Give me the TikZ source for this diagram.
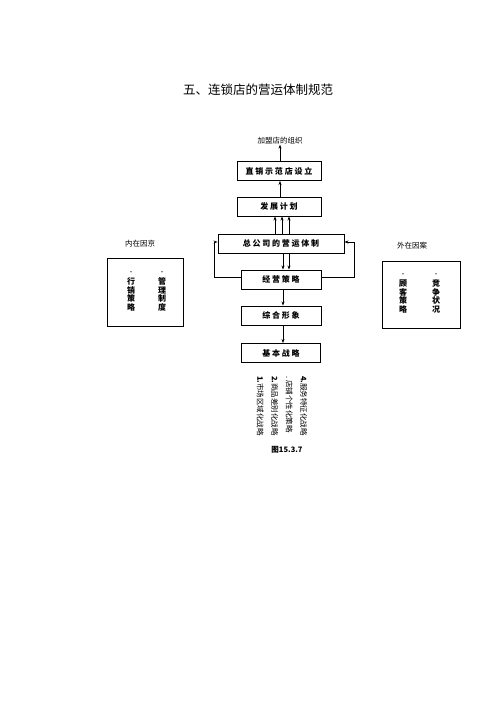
\documentclass[tikz,border=0pt]{standalone}
\usepackage{fontspec}
\setmainfont{Noto Sans CJK SC}
\newfontfamily\spaced[LetterSpace=22]{Noto Sans CJK SC}
\usetikzlibrary{arrows.meta}
\newcommand{\sdot}{{\mdseries\fontsize{6}{6}\selectfont ·}}
\begin{document}
\begin{tikzpicture}[x=1pt,y=-1pt,
  bx/.style={draw,line width=0.9pt,minimum height=19pt,inner sep=0pt,font=\spaced\bfseries\fontsize{8}{9}\selectfont},
  arr/.style={-{Stealth[length=4pt,width=3pt]},line width=0.6pt},
  lab/.style={font=\fontsize{7.5}{9}\selectfont,inner sep=0pt},
  side/.style={draw,line width=0.8pt},
  col/.style={align=center,inner sep=0pt,font=\bfseries\fontsize{8}{8.5}\selectfont}]
\useasboundingbox (0,0) rectangle (500,707);
\fill[white] (0,0) rectangle (500,707);
% title
\node[font=\fontsize{12.5}{14}\selectfont] (title) at (258,90) {五、连锁店的营运体制规范};
% main column
\node[lab] (jm) at (280,141) {加盟店的组织};
\node[bx,minimum width=84pt] (zx) at (279,171) {直销示范店设立};
\node[bx,minimum width=84pt] (fz) at (279,206.5) {发展计划};
\node[bx,minimum width=126pt] (zg) at (281,244) {总公司的营运体制};
\node[bx,minimum width=80pt] (jy) at (281,279.5) {经营策略};
\node[bx,minimum width=80pt] (zh) at (281,315.5) {综合形象};
\node[bx,minimum width=79pt] (jb) at (281,353) {基本战略};
% x positions
\coordinate (x214) at (214,0);
\coordinate (x275) at (275,0);
\coordinate (x280) at (280,0);
\coordinate (x282) at (282,0);
\coordinate (x283) at (283,0);
\coordinate (x289) at (289,0);
\coordinate (x354) at (354,0);
% arrows
\draw[arr] (zx.north -| x280) -- (jm.south -| x280);
\draw[arr] (fz.north -| x280) -- (zx.south -| x280);
\draw[arr] (zg.north -| x275) -- (fz.south -| x275);
\draw[arr] (zg.north -| x282) -- (fz.south -| x282);
\draw[arr] (zg.north -| x289) -- (fz.south -| x289);
\draw[arr] (zg.south -| x283) -- (jy.north -| x283);
\draw[arr] (zg.south -| x289) -- (jy.north -| x289);
\draw[arr] (jy.south -| x283) -- (zh.north -| x283);
\draw[arr] (zh.south -| x283) -- (jb.north -| x283);
\draw[arr] ([yshift=2pt]jy.west) -- ([yshift=2pt]jy.west -| x214) |- ([yshift=2pt]zg.west);
\draw[arr] ([yshift=2pt]jy.east) -- ([yshift=2pt]jy.east -| x354) |- ([yshift=2pt]zg.east);
% side boxes
\node[lab] (nz) at (140,244) {内在因京};
\node[side,minimum width=76pt,minimum height=68pt] (lb) at (145,292) {};
\node[col] (l1) at (131,291) {\sdot\\[2pt]行\\销\\策\\略};
\node[col] (l2) at (162,291) {\sdot\\[2pt]管\\理\\制\\度};
\node[lab] (wz) at (412,246) {外在因案};
\node[side,minimum width=78pt,minimum height=67pt] (rb) at (421,294.5) {};
\node[col] (r1) at (403,293) {\sdot\\[2pt]顾\\客\\策\\略};
\node[col] (r2) at (436,293) {\sdot\\[2pt]竞\\争\\状\\况};
% bottom list
\node[rotate=-90,align=left,inner sep=0pt,font=\fontsize{7.5}{14.5}\selectfont] (list) at (282,406) {\textbf{4.}服务特征化战略\\. 店铺个性化策略\\\textbf{2.}商品差别化战略\\\textbf{1.}市场区域化战略};
\node[font=\bfseries\fontsize{7.5}{9}\selectfont] (cap) at (287,450) {图15.3.7};
\end{tikzpicture}
\end{document}
